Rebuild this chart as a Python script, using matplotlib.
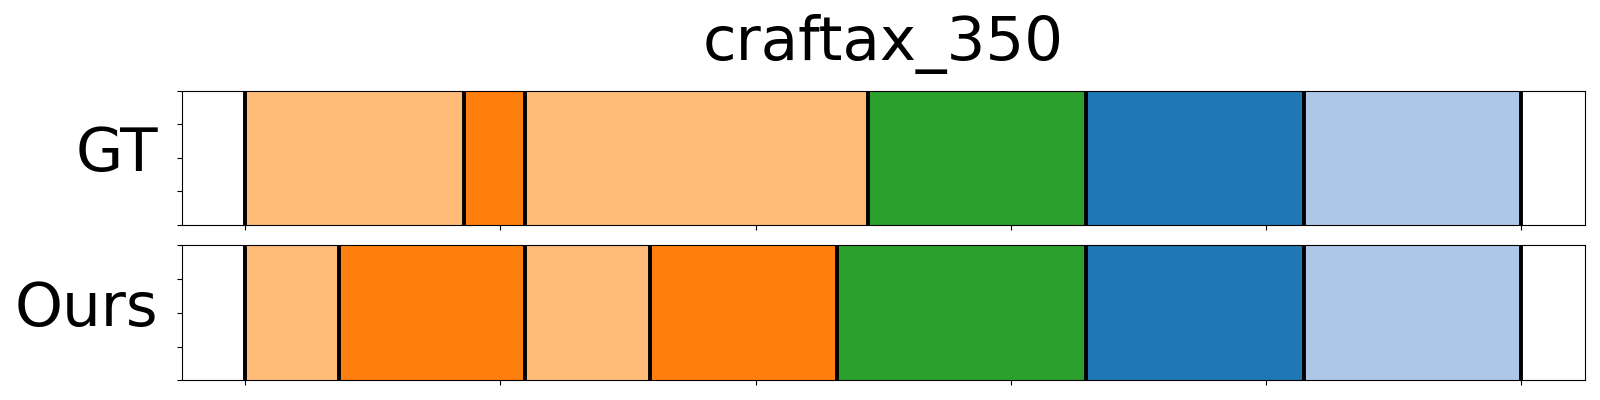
import numpy as np
import matplotlib.pyplot as plt

# segment boundaries (frame index) and class ids (tab20 palette index)
gt_bounds = [0, 85.6, 109.7, 244.2, 329.6, 415, 500]
gt_classes = [3, 2, 3, 4, 0, 1]

ours_bounds = [0, 36.8, 109.7, 158.8, 232.0, 329.6, 415, 500]
ours_classes = [3, 2, 3, 2, 4, 0, 1]

title = 'craftax_350'
row_names = ['GT', 'Ours']

palette = plt.get_cmap('tab20').colors

fig = plt.figure(figsize=(16, 4), dpi=100)
ax_gt = fig.add_axes([0.1135, 0.4375, 0.8769, 0.3358])
ax_ours = fig.add_axes([0.1135, 0.0492, 0.8769, 0.3375])

for ax, bounds, classes, name in [(ax_gt, gt_bounds, gt_classes, row_names[0]),
                                  (ax_ours, ours_bounds, ours_classes, row_names[1])]:
    for start, end, c in zip(bounds[:-1], bounds[1:], classes):
        ax.axvspan(start, end, color=palette[c], lw=0)
    for b in bounds:
        ax.axvline(b, color='black', lw=2.8)
    ax.set_xlim(-25, 525)
    ax.set_ylim(0, 1)
    ax.set_xticks(np.arange(0, 501, 100))
    ax.set_xticklabels([])
    ax.set_yticks(np.linspace(0, 1, 5))
    ax.set_yticklabels([])
    ax.set_ylabel(name, fontsize=44, rotation=0, ha='right', va='center')
    ax.yaxis.set_label_coords(-0.0165, 0.527)

ax_gt.set_title(title, fontsize=44, pad=22)

fig.savefig('out.png', dpi=100)
